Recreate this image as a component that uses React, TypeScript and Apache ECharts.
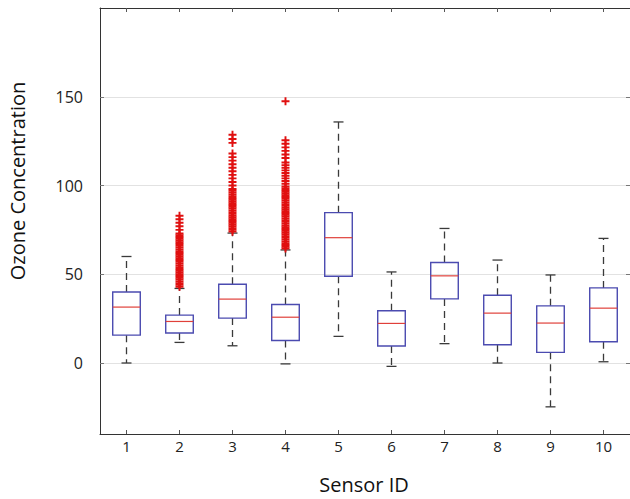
import React, { useEffect, useRef } from "react";
import * as echarts from "echarts";

const sensors = ["1", "2", "3", "4", "5", "6", "7", "8", "9", "10"];
const whiskerLow = [0, 11.6, 9.7, -0.5, 15, -1.9, 10.9, 0, -24.7, 0.7];
const q1 = [15.7, 16.9, 25.3, 12.7, 48.9, 9.6, 36.1, 10.3, 6, 12];
const median = [31.5, 23.4, 36, 25.8, 70.6, 22.3, 49.1, 28.1, 22.5, 30.9];
const q3 = [40, 27, 44.4, 33, 84.7, 29.4, 56.6, 38.2, 32.2, 42.3];
const whiskerHigh = [60, 42, 73.2, 63.7, 135.8, 51.3, 75.8, 58, 49.6, 70.2];

const outliers2 = [
  43, 44, 45, 46, 47, 48, 49, 50, 51, 52, 53, 54, 55, 56, 57, 58, 59, 60, 61,
  62, 63, 64, 65, 66, 67, 68, 69, 70, 71, 72, 73, 75, 77, 79, 81, 83,
];
const outliers3 = [
  74, 75, 76, 77, 78, 79, 80, 81, 82, 83, 84, 85, 86, 87, 88, 89, 90, 91, 92,
  93, 94, 95, 96, 97, 98, 100, 102, 104, 106, 108, 110, 112, 114, 116, 118,
  124, 126.2, 128.6,
];
const outliers4 = [
  64.5, 65.5, 66.5, 67.5, 68.5, 69.5, 70.5, 71.5, 72.5, 73.5, 74.5, 75.5, 76.5,
  77.5, 78.5, 79.5, 80.5, 81.5, 82.5, 83.5, 84.5, 85.5, 86.5, 87.5, 88.5, 89.5,
  90.5, 91.5, 92.5, 93.5, 94.5, 95.5, 96.5, 97.5, 98.5, 99.5, 101, 102.5, 104,
  105.5, 107, 108.5, 110, 111.5, 113, 115.5, 117.5, 119.5, 121.5, 123.5, 125.5,
  147.5,
];

const yTicks = [0, 50, 100, 150];

const FONT = "'Open Sans', sans-serif";

export default function App() {
  const ref = useRef<HTMLDivElement>(null);

  useEffect(() => {
    if (!ref.current) return;
    const chart = echarts.init(ref.current, null, { renderer: "svg" });

    const boxData = sensors.map((_, i) => [
      i,
      whiskerLow[i],
      q1[i],
      median[i],
      q3[i],
      whiskerHigh[i],
    ]);

    const outlierData: number[][] = [];
    outliers2.forEach((v) => outlierData.push([1, v]));
    outliers3.forEach((v) => outlierData.push([2, v]));
    outliers4.forEach((v) => outlierData.push([3, v]));

    const boxColor = "#4b4bb0";
    const whiskerColor = "#3a3a3a";
    const medianColor = "#e0403a";

    const option: any = {
      animation: false,
      backgroundColor: "#ffffff",
      grid: {
        left: 100,
        top: 8,
        right: 0,
        bottom: 65,
        containLabel: false,
        outerBoundsMode: "none",
      },
      xAxis: [
        {
          type: "category",
          data: sensors,
          position: "bottom",
          boundaryGap: true,
          axisLine: { show: true, onZero: false, lineStyle: { color: "#333", width: 1 } },
          axisTick: {
            show: true,
            inside: true,
            alignWithLabel: true,
            length: 4,
            lineStyle: { color: "#555" },
          },
          axisLabel: {
            color: "#222",
            fontSize: 15,
            fontFamily: FONT,
            margin: 4,
          },
          splitLine: { show: false },
        },
        {
          type: "category",
          data: sensors,
          position: "top",
          boundaryGap: true,
          axisLine: { show: true, onZero: false, lineStyle: { color: "#333", width: 1 } },
          axisTick: {
            show: true,
            inside: true,
            alignWithLabel: true,
            length: 4,
            lineStyle: { color: "#555" },
          },
          axisLabel: { show: false },
          splitLine: { show: false },
        },
      ],
      yAxis: [
        {
          type: "value",
          min: -40,
          max: 200,
          position: "left",
          axisLine: { show: true, onZero: false, lineStyle: { color: "#333", width: 1 } },
          axisTick: {
            show: true,
            inside: true,
            length: 4,
            customValues: yTicks,
            lineStyle: { color: "#777" },
          },
          axisLabel: {
            customValues: yTicks,
            color: "#222",
            fontSize: 16,
            fontFamily: FONT,
            margin: 17,
            formatter: (v: number) => (yTicks.includes(v) ? String(v) : ""),
          },
          splitLine: {
            show: true,
            lineStyle: { color: "#e2e2e2", width: 1 },
          },
        },
        {
          type: "value",
          min: -40,
          max: 200,
          position: "right",
          axisLine: { show: false, onZero: false },
          axisTick: {
            show: true,
            inside: true,
            length: 4,
            customValues: yTicks,
            lineStyle: { color: "#777" },
          },
          axisLabel: { show: false },
          splitLine: { show: false },
        },
      ],
      graphic: [
        {
          type: "text",
          x: 17,
          y: 181,
          rotation: Math.PI / 2,
          style: {
            text: "Ozone Concentration",
            fill: "#111",
            font: `20px ${FONT}`,
            align: "center",
            verticalAlign: "middle",
          },
        },
        {
          type: "text",
          x: 364,
          y: 484,
          style: {
            text: "Sensor ID",
            fill: "#111",
            font: `20px ${FONT}`,
            align: "center",
            verticalAlign: "middle",
          },
        },
      ],
      series: [
        {
          type: "custom",
          xAxisIndex: 0,
          yAxisIndex: 0,
          data: boxData,
          encode: { x: 0, y: [1, 2, 3, 4, 5] },
          renderItem: (params: any, api: any) => {
            const idx = api.value(0);
            const pLow = api.coord([idx, api.value(1)]);
            const pQ1 = api.coord([idx, api.value(2)]);
            const pMed = api.coord([idx, api.value(3)]);
            const pQ3 = api.coord([idx, api.value(4)]);
            const pHigh = api.coord([idx, api.value(5)]);
            const cx = pLow[0];
            const bw = api.size([1, 0])[0] * 0.52;
            const cw = 5;
            const dashStyle = {
              stroke: whiskerColor,
              lineWidth: 1.3,
              lineDash: [7, 5],
            };
            const capStyle = { stroke: whiskerColor, lineWidth: 1.3 };
            return {
              type: "group",
              children: [
                {
                  type: "line",
                  shape: { x1: cx, y1: pQ3[1], x2: cx, y2: pHigh[1] },
                  style: dashStyle,
                },
                {
                  type: "line",
                  shape: { x1: cx, y1: pQ1[1], x2: cx, y2: pLow[1] },
                  style: dashStyle,
                },
                {
                  type: "line",
                  shape: { x1: cx - cw, y1: pHigh[1], x2: cx + cw, y2: pHigh[1] },
                  style: capStyle,
                },
                {
                  type: "line",
                  shape: { x1: cx - cw, y1: pLow[1], x2: cx + cw, y2: pLow[1] },
                  style: capStyle,
                },
                {
                  type: "rect",
                  shape: {
                    x: cx - bw / 2,
                    y: pQ3[1],
                    width: bw,
                    height: pQ1[1] - pQ3[1],
                  },
                  style: { fill: "rgba(255,255,255,0)", stroke: boxColor, lineWidth: 1.4 },
                },
                {
                  type: "line",
                  shape: {
                    x1: cx - bw / 2,
                    y1: pMed[1],
                    x2: cx + bw / 2,
                    y2: pMed[1],
                  },
                  style: { stroke: medianColor, lineWidth: 1.2 },
                },
              ],
            };
          },
          z: 3,
        },
        {
          type: "scatter",
          xAxisIndex: 0,
          yAxisIndex: 0,
          data: outlierData,
          symbol: "path://M3.8,0h2.4v3.8h3.8v2.4h-3.8v3.8h-2.4v-3.8h-3.8v-2.4h3.8z",
          symbolSize: 8,
          itemStyle: { color: "#e01010", opacity: 1 },
          z: 4,
        },
      ],
    };

    chart.setOption(option);
    return () => chart.dispose();
  }, []);

  return (
    <div
      ref={ref}
      style={{
        position: "fixed",
        left: 0,
        top: 0,
        width: 630,
        height: 499,
        background: "#fff",
      }}
    />
  );
}
